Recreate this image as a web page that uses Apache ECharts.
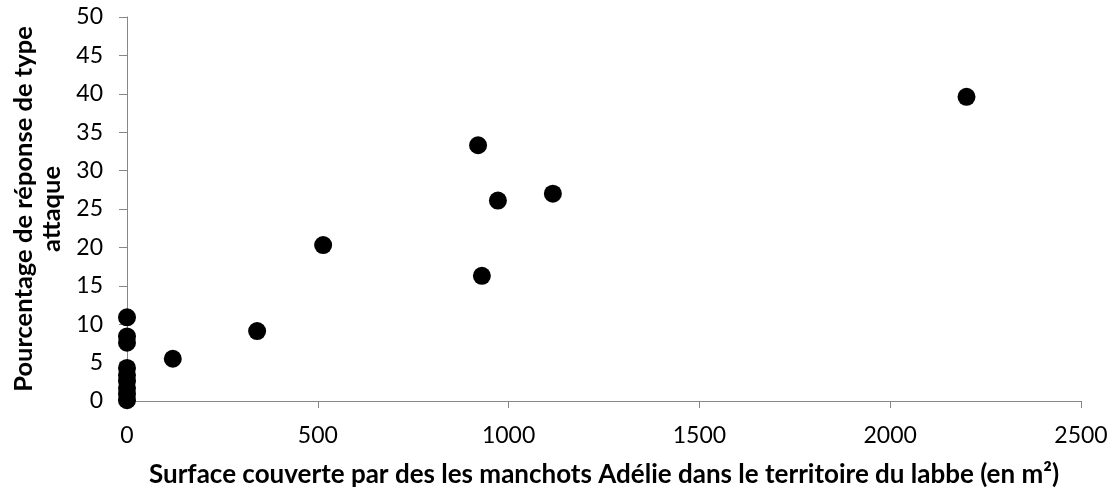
<!DOCTYPE html>
<html>
<head>
<meta charset="utf-8">
<script src="https://cdn.jsdelivr.net/npm/echarts@6/dist/echarts.min.js"></script>
<style>
  html, body { margin: 0; padding: 0; background: #fff; }
  #chart { width: 1116px; height: 493px; }
</style>
</head>
<body>
<div id="chart"></div>
<script>
// Surface occupée par les manchots (m²) et pourcentage de réponses de type attaque
const surface = [0, 0, 0, 0, 0, 0, 0, 0, 0, 120, 341, 514, 920, 930, 972, 1116, 2200];
const pourcentage = [10.9, 8.4, 7.6, 4.3, 3.4, 2.6, 1.7, 0.9, 0.1, 5.5, 9.1, 20.3, 33.3, 16.3, 26.1, 27.0, 39.6];
const xTicks = { min: 0, max: 2500, interval: 500 };
const yTicks = { min: 0, max: 50, interval: 5 };

const xTitle = 'Surface couverte par des les manchots Adélie dans le territoire du labbe (en m²)';
const yTitle = 'Pourcentage de réponse de type\nattaque';

const font = 'Lato, "Liberation Sans", sans-serif';
const axisGrey = '#878787';

const points = surface.map((x, i) => [x, pourcentage[i]]);

const chart = echarts.init(document.getElementById('chart'));
chart.setOption({
  animation: false,
  grid: { left: 127, right: 35, top: 17, bottom: 91, containLabel: false },
  xAxis: {
    type: 'value',
    min: xTicks.min, max: xTicks.max, interval: xTicks.interval,
    name: xTitle,
    nameLocation: 'middle',
    nameGap: 61,
    nameTextStyle: { fontFamily: font, fontSize: 26, fontWeight: 'bold', color: '#000' },
    axisLine: { show: true, lineStyle: { color: axisGrey, width: 1 } },
    axisTick: { show: true, length: 7, lineStyle: { color: axisGrey } },
    axisLabel: { fontFamily: font, fontSize: 23, color: '#000', margin: 23, formatter: v => String(v) },
    splitLine: { show: false }
  },
  yAxis: {
    type: 'value',
    min: yTicks.min, max: yTicks.max, interval: yTicks.interval,
    name: yTitle,
    nameLocation: 'middle',
    nameGap: 59,
    nameRotate: 90,
    nameTextStyle: { fontFamily: font, fontSize: 25.5, fontWeight: 'bold', color: '#000', lineHeight: 28 },
    axisLine: { show: true, lineStyle: { color: axisGrey, width: 1 } },
    axisTick: { show: true, length: 8, lineStyle: { color: axisGrey } },
    axisLabel: { fontFamily: font, fontSize: 23, color: '#000', margin: 24, formatter: v => String(v) },
    splitLine: { show: false }
  },
  series: [{
    type: 'scatter',
    data: points,
    symbol: 'circle',
    symbolSize: 18,
    itemStyle: { color: '#000', opacity: 1 },
    clip: false
  }]
});
</script>
</body>
</html>
